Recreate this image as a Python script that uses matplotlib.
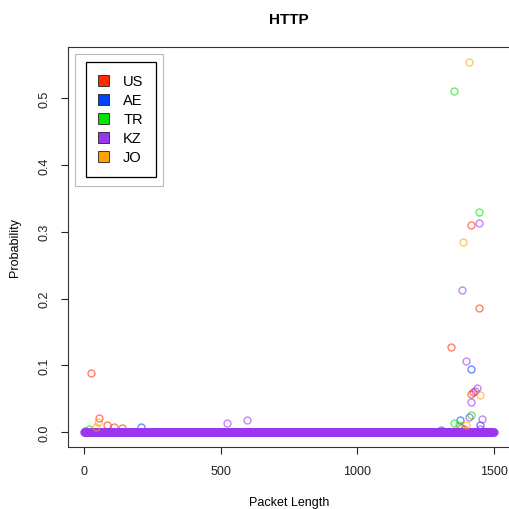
import numpy as np
import matplotlib.pyplot as plt
from matplotlib.patches import Patch, Rectangle

plt.rcParams['font.family'] = ['Liberation Sans', 'DejaVu Sans']

countries = ['US', 'AE', 'TR', 'KZ', 'JO']
colors = {'US': '#FF2A00', 'AE': '#0044FF', 'TR': '#00E600',
          'KZ': '#9B35F0', 'JO': '#FFA200'}

# packet lengths / probabilities (points above ~0)
us_len = [25, 55, 84, 110, 138, 1343, 1416, 1445, 1416, 1423, 1380, 1390]
us_prob = [0.088, 0.021, 0.010, 0.008, 0.006, 0.127, 0.310, 0.186, 0.057,
           0.060, 0.006, 0.004]
ae_len = [5, 208, 1307, 1376, 1416, 1449]
ae_prob = [0.002, 0.008, 0.003, 0.018, 0.094, 0.011]
tr_len = [18, 1354, 1445, 1416, 1354, 1372]
tr_prob = [0.005, 0.510, 0.329, 0.025, 0.014, 0.010]
# KZ has a value at nearly every packet length, almost all close to 0
kz_base_len = np.arange(0, 1501)
kz_len = [524, 597, 1384, 1398, 1409, 1416, 1431, 1438, 1445, 1449, 1456]
kz_prob = [0.013, 0.018, 0.213, 0.106, 0.022, 0.045, 0.061, 0.066, 0.313,
           0.005, 0.019]
jo_len = [45, 51, 1387, 1398, 1409, 1449]
jo_prob = [0.008, 0.015, 0.284, 0.010, 0.554, 0.055]

kz_full = np.zeros(len(kz_base_len))
kz_full[np.array(kz_len)] = kz_prob

series = {'US': (us_len, us_prob), 'AE': (ae_len, ae_prob),
          'TR': (tr_len, tr_prob), 'KZ': (kz_base_len, kz_full),
          'JO': (jo_len, jo_prob)}

fig = plt.figure(figsize=(5.1, 5.1), dpi=100)
ax = fig.add_axes([0.1325, 0.1216, 0.868, 0.785])

for c in countries:
    xs, ys = series[c]
    ax.plot(xs, ys, 'o', ls='none', ms=5, mfc='none', mec=colors[c],
            mew=1.0, alpha=0.6)

ax.set_xlim(-60, 1560)
ax.set_ylim(-0.0222, 0.577)
ax.set_xticks([0, 500, 1000, 1500])
ax.set_yticks([0.0, 0.1, 0.2, 0.3, 0.4, 0.5])
ax.set_yticklabels(['0.0', '0.1', '0.2', '0.3', '0.4', '0.5'],
                   rotation=90, va='center')
ax.tick_params(direction='out', length=5, width=0.8, labelsize=9,
               colors='#222222')
ax.tick_params(axis='x', pad=8)
ax.tick_params(axis='y', pad=7)
for s in ax.spines.values():
    s.set_linewidth(0.8)
    s.set_color('#333333')

ax.set_title('HTTP', fontsize=11, fontweight='bold', pad=17)
ax.set_xlabel('Packet Length', fontsize=9, labelpad=14)
ax.set_ylabel('Probability', fontsize=9, labelpad=13)

# legend: black box with a light grey frame around it
handles = [Patch(facecolor=colors[c], edgecolor='#222222', lw=0.6, label=c)
           for c in countries]
leg = ax.legend(handles=handles, loc='upper left',
                bbox_to_anchor=(0.0415, 0.9615), borderaxespad=0,
                fontsize=10.5, frameon=True, fancybox=False,
                edgecolor='black', framealpha=1, borderpad=0.85,
                labelspacing=0.34, handlelength=0.75, handleheight=0.75,
                handletextpad=0.95)
leg.get_frame().set_linewidth(0.9)
ax.add_patch(Rectangle((0.0167, 0.6519), 0.1985, 0.3297,
                       transform=ax.transAxes, fill=False,
                       edgecolor='#BBBBBB', lw=0.8, zorder=4))

fig.savefig('out.png', dpi=100)
